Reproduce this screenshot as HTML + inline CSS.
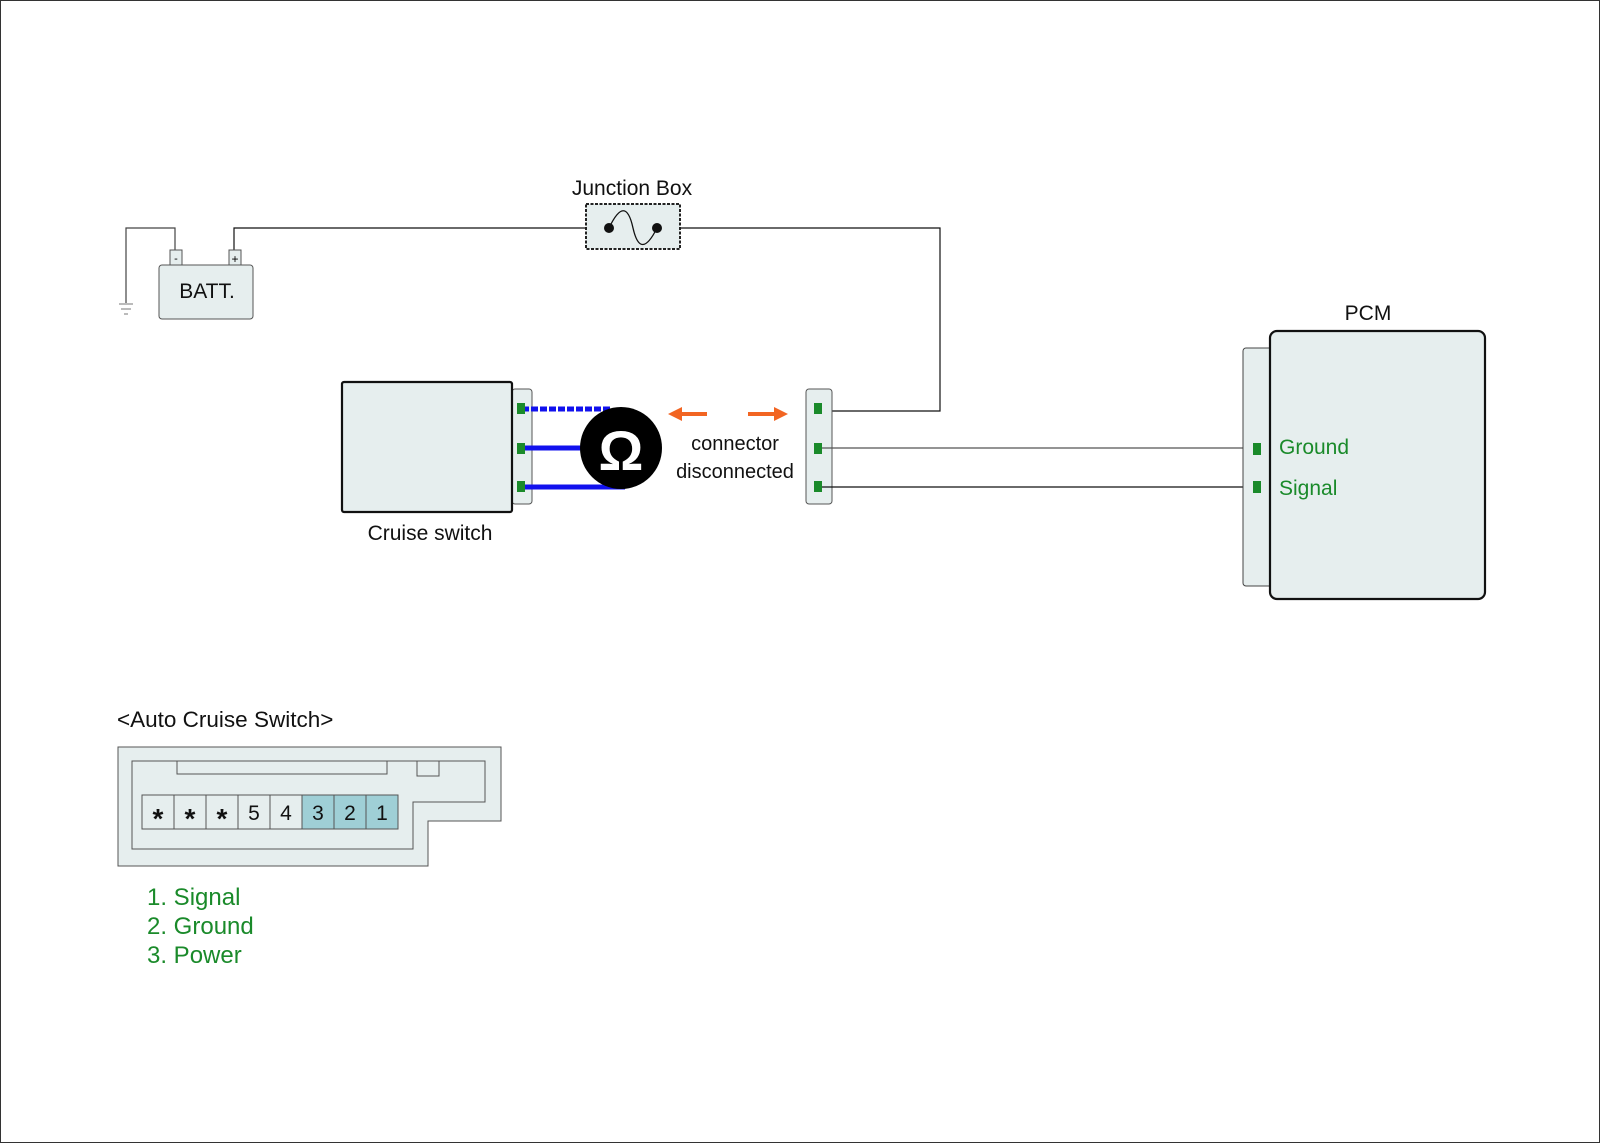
<!DOCTYPE html>
<html><head><style>
html,body{margin:0;padding:0;background:#fff;}
svg{display:block;font-family:"Liberation Sans",Arial,sans-serif;}
</style></head><body>
<svg width="1600" height="1143" viewBox="0 0 1600 1143" xmlns="http://www.w3.org/2000/svg">
<rect x="0.5" y="0.5" width="1599" height="1142" fill="#fff" stroke="#333" stroke-width="1"/>
<polyline points="175,258 175,228 126,228 126,303" fill="none" stroke="#444" stroke-width="1.2"/>
<line x1="119" y1="304" x2="133" y2="304" stroke="#777"/>
<line x1="121" y1="309" x2="131" y2="309" stroke="#777"/>
<line x1="124" y1="314" x2="128" y2="314" stroke="#777"/>
<polyline points="234,258 234,228 606,228" fill="none" stroke="#111" stroke-width="1.2"/>
<polyline points="655,228 940,228 940,411 820,411" fill="none" stroke="#111" stroke-width="1.2"/>
<rect x="159" y="265" width="94" height="54" rx="3" fill="#e6eeee" stroke="#555"/>
<rect x="170" y="250" width="12" height="15" fill="#e6eeee" stroke="#555"/>
<rect x="229" y="250" width="12" height="15" fill="#e6eeee" stroke="#555"/>
<text x="176" y="262" font-size="11" text-anchor="middle">-</text>
<text x="235" y="263" font-size="12" text-anchor="middle">+</text>
<text x="207" y="298" font-size="21" text-anchor="middle" fill="#111">BATT.</text>
<text x="632" y="195" font-size="21" text-anchor="middle" fill="#111">Junction Box</text>
<rect x="586" y="204" width="94" height="45" fill="#e6eeee" stroke="#222" stroke-width="2" stroke-dasharray="3,1.5"/>
<path d="M609,228 C620,205 628,205 633,228 C638,250 646,250 657,228" fill="none" stroke="#111" stroke-width="1.3"/>
<circle cx="609" cy="228" r="5" fill="#111"/>
<circle cx="657" cy="228" r="5" fill="#111"/>
<rect x="512" y="389" width="20" height="115" rx="3" fill="#e6eeee" stroke="#555"/>
<rect x="342" y="382" width="170" height="130" rx="2" fill="#e6eeee" stroke="#111" stroke-width="2.2"/>
<text x="430" y="540" font-size="21" text-anchor="middle" fill="#111">Cruise switch</text>
<line x1="522" y1="409" x2="612" y2="409" stroke="#1111ee" stroke-width="5" stroke-dasharray="7,2"/>
<line x1="522" y1="448" x2="600" y2="448" stroke="#1111ee" stroke-width="5"/>
<line x1="522" y1="487" x2="625" y2="487" stroke="#1111ee" stroke-width="5"/>
<rect x="517" y="403" width="8" height="11" fill="#1a8a2a"/>
<rect x="517" y="443" width="8" height="11" fill="#1a8a2a"/>
<rect x="517" y="481" width="8" height="11" fill="#1a8a2a"/>
<circle cx="621" cy="448" r="41" fill="#000"/>
<text x="621" y="470" font-size="56" font-weight="bold" text-anchor="middle" fill="#fff">Ω</text>
<line x1="680" y1="414" x2="707" y2="414" stroke="#f26522" stroke-width="4"/>
<polygon points="668,414 682,407 682,421" fill="#f26522"/>
<line x1="748" y1="414" x2="776" y2="414" stroke="#f26522" stroke-width="4"/>
<polygon points="788,414 774,407 774,421" fill="#f26522"/>
<text x="735" y="450" font-size="20" text-anchor="middle" fill="#111">connector</text>
<text x="735" y="478" font-size="20" text-anchor="middle" fill="#111">disconnected</text>
<rect x="806" y="389" width="26" height="115" rx="3" fill="#e6eeee" stroke="#555"/>
<line x1="820" y1="448" x2="1255" y2="448" stroke="#555" stroke-width="1.2"/>
<line x1="820" y1="487" x2="1255" y2="487" stroke="#111" stroke-width="1.2"/>
<rect x="814" y="403" width="8" height="11" fill="#1a8a2a"/>
<rect x="814" y="443" width="8" height="11" fill="#1a8a2a"/>
<rect x="814" y="481" width="8" height="11" fill="#1a8a2a"/>
<text x="1368" y="320" font-size="21" text-anchor="middle" fill="#111">PCM</text>
<rect x="1243" y="348" width="30" height="238" rx="3" fill="#e6eeee" stroke="#444"/>
<rect x="1270" y="331" width="215" height="268" rx="7" fill="#e6eeee" stroke="#111" stroke-width="2.2"/>
<rect x="1253" y="443" width="8" height="12" fill="#1a8a2a"/>
<rect x="1253" y="481" width="8" height="12" fill="#1a8a2a"/>
<text x="1279" y="454" font-size="21" fill="#1a8a2a">Ground</text>
<text x="1279" y="495" font-size="21" fill="#1a8a2a">Signal</text>
<text x="117" y="727" font-size="22.5" fill="#111">&lt;Auto Cruise Switch&gt;</text>
<polygon points="118,747 501,747 501,821 428,821 428,866 118,866" fill="#e6eeee" stroke="#555"/>
<polygon points="132,761 485,761 485,802 413,802 413,849 132,849" fill="#e6eeee" stroke="#555"/>
<polyline points="177,761 177,774 387,774 387,761" fill="none" stroke="#555"/>
<polyline points="417,761 417,776 439,776 439,761" fill="none" stroke="#555"/>
<g stroke="#555">
<rect x="142" y="795" width="32" height="34" fill="#e6eeee"/>
<rect x="174" y="795" width="32" height="34" fill="#e6eeee"/>
<rect x="206" y="795" width="32" height="34" fill="#e6eeee"/>
<rect x="238" y="795" width="32" height="34" fill="#e6eeee"/>
<rect x="270" y="795" width="32" height="34" fill="#e6eeee"/>
<rect x="302" y="795" width="32" height="34" fill="#9fcfd6"/>
<rect x="334" y="795" width="32" height="34" fill="#9fcfd6"/>
<rect x="366" y="795" width="32" height="34" fill="#9fcfd6"/>
</g>
<g font-size="21" text-anchor="middle" fill="#111">
<text x="158" y="828" font-size="28" font-weight="bold">*</text>
<text x="190" y="828" font-size="28" font-weight="bold">*</text>
<text x="222" y="828" font-size="28" font-weight="bold">*</text>
<text x="254" y="820">5</text>
<text x="286" y="820">4</text>
<text x="318" y="820">3</text>
<text x="350" y="820">2</text>
<text x="382" y="820">1</text>
</g>
<g font-size="24" fill="#1a8a2a">
<text x="147" y="905">1. Signal</text>
<text x="147" y="934">2. Ground</text>
<text x="147" y="963">3. Power</text>
</g>
</svg>
</body></html>
